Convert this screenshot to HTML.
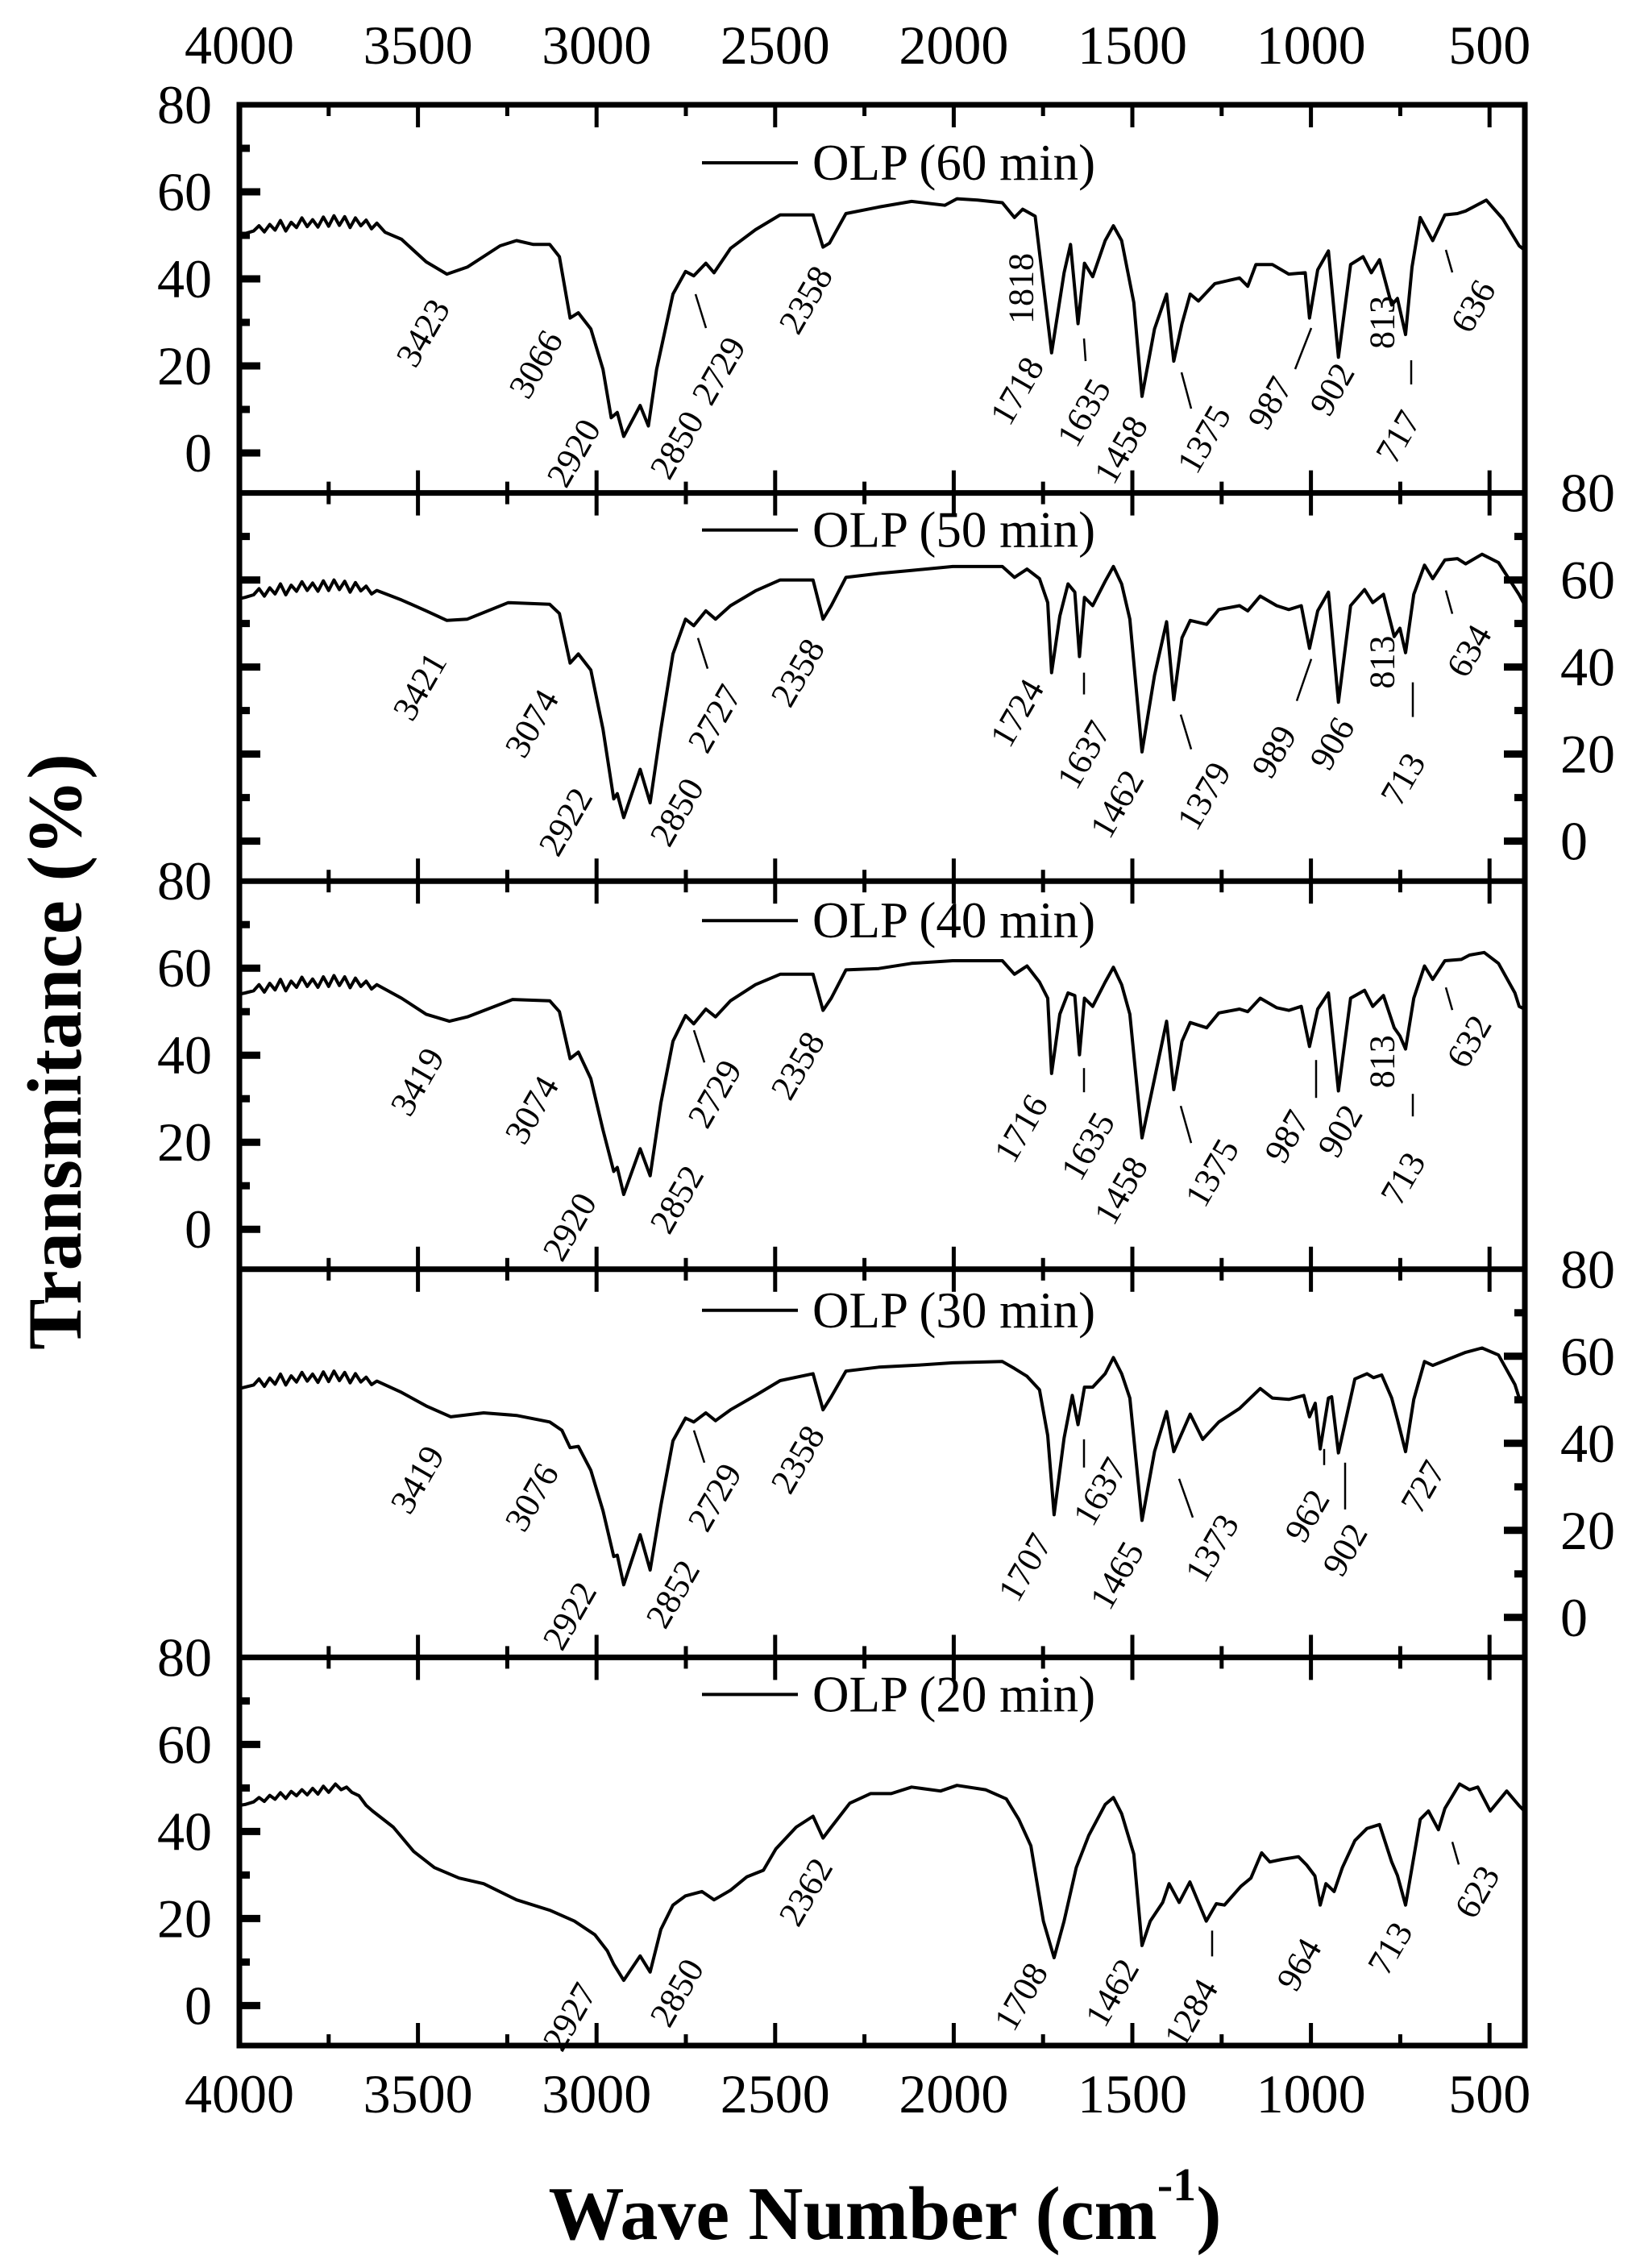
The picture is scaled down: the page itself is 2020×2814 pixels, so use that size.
<!DOCTYPE html>
<html>
<head>
<meta charset="utf-8">
<style>
html,body{margin:0;padding:0;background:#fff;}
svg{display:block;}
text{font-family:"Liberation Serif","Times New Roman",serif;fill:#000;}
</style>
</head>
<body>
<svg id="chart" width="2020" height="2814" viewBox="0 0 2020 2814" xmlns="http://www.w3.org/2000/svg">
  <rect x="0" y="0" width="2020" height="2814" fill="#fff"/>
  <g id="plot"></g>
  <text x="68" y="1305" font-size="95" font-weight="bold" text-anchor="middle" dominant-baseline="central" transform="rotate(-90 68 1305)">Transmitance (%)</text>
  <text x="1098" y="2778" font-size="94" font-weight="bold" text-anchor="middle">Wave Number (cm<tspan font-size="58" dy="-48">-1</tspan><tspan dy="48">)</tspan></text>
</svg>
<script>
// ---- data ----
const xTicks = [4000, 3500, 3000, 2500, 2000, 1500, 1000, 500];
const yTicks = [80, 60, 40, 20, 0];
const panelTitles = ["OLP (60 min)", "OLP (50 min)", "OLP (40 min)", "OLP (30 min)", "OLP (20 min)"];

const spec60 = [[4000,50.1],[3984,50.4],[3960,51.0],[3945,52.2],[3930,50.8],[3915,52.5],[3900,51.2],[3885,53.4],[3870,51.0],[3855,53.0],[3840,51.8],[3825,54.0],[3810,52.0],[3795,53.6],[3780,51.9],[3765,54.2],[3750,52.1],[3735,54.5],[3720,52.3],[3705,54.3],[3690,51.8],[3675,54.0],[3660,52.2],[3645,53.5],[3630,51.5],[3615,52.8],[3592,50.7],[3546,49.1],[3477,43.9],[3419,41.1],[3362,42.7],[3270,47.6],[3224,48.8],[3177,47.9],[3131,47.9],[3104,45.1],[3074,31.0],[3051,32.2],[3016,28.5],[2982,19.2],[2959,8.1],[2942,9.3],[2924,3.8],[2878,10.9],[2855,6.2],[2832,19.2],[2786,36.5],[2751,41.7],[2728,40.7],[2694,43.6],[2671,41.4],[2625,47.0],[2555,51.3],[2486,54.7],[2394,54.7],[2366,47.3],[2348,48.2],[2302,55.0],[2210,56.5],[2118,57.8],[2025,56.9],[1991,58.4],[1933,58.1],[1864,57.5],[1830,54.1],[1807,56.0],[1772,54.4],[1726,23.0],[1691,41.4],[1673,47.9],[1652,29.7],[1634,43.6],[1611,40.5],[1576,48.8],[1553,52.2],[1530,48.8],[1496,34.6],[1473,13.0],[1438,28.5],[1404,36.5],[1384,21.1],[1361,29.7],[1338,36.5],[1315,34.9],[1269,38.9],[1200,40.2],[1177,38.3],[1154,43.3],[1108,43.3],[1062,41.1],[1016,41.4],[1004,31.0],[981,42.1],[951,46.4],[923,22.0],[889,43.3],[854,45.1],[831,41.4],[808,44.4],[774,34.0],[758,35.5],[735,27.2],[717,42.7],[694,54.1],[659,48.8],[625,54.7],[590,55.0],[567,55.6],[509,58.1],[463,53.8],[417,47.6],[400,46.5]];

const spec50 = [[4000,55.7],[3984,56.0],[3960,56.6],[3945,58.0],[3930,56.3],[3915,58.2],[3900,56.8],[3885,59.1],[3870,56.6],[3855,58.8],[3840,57.4],[3825,59.6],[3810,57.6],[3795,59.3],[3780,57.4],[3765,59.8],[3750,57.6],[3735,60.0],[3720,57.8],[3705,59.7],[3690,57.2],[3675,59.4],[3660,57.5],[3645,58.6],[3630,56.8],[3615,57.6],[3546,55.4],[3477,52.9],[3419,50.7],[3362,51.0],[3247,54.8],[3131,54.4],[3104,52.3],[3074,40.9],[3051,43.0],[3016,39.3],[2982,25.7],[2952,9.7],[2942,10.9],[2924,5.4],[2878,16.5],[2850,8.8],[2820,25.7],[2786,43.0],[2751,51.0],[2728,49.5],[2694,52.9],[2667,51.0],[2625,54.1],[2555,57.5],[2486,60.0],[2394,60.0],[2366,51.0],[2343,54.1],[2302,60.6],[2210,61.5],[2118,62.2],[2003,63.1],[1864,63.1],[1830,60.6],[1795,62.5],[1760,60.3],[1737,54.8],[1726,38.7],[1703,51.7],[1680,59.1],[1661,57.2],[1648,42.4],[1634,56.0],[1611,54.1],[1576,59.7],[1553,63.1],[1530,59.1],[1507,51.0],[1473,20.5],[1438,38.1],[1404,50.4],[1384,32.5],[1361,46.7],[1338,50.7],[1292,49.8],[1258,53.2],[1200,54.1],[1177,52.9],[1142,56.3],[1096,54.1],[1062,53.2],[1027,54.1],[1004,44.3],[981,52.9],[951,57.2],[923,31.9],[889,54.1],[850,57.8],[827,54.8],[797,56.7],[767,47.0],[751,48.9],[735,43.3],[712,56.7],[682,63.4],[659,60.3],[625,64.6],[590,64.9],[567,63.7],[521,65.9],[475,64.0],[417,56.6],[400,54.0]];

const spec40 = [[4000,54.0],[3984,54.3],[3960,54.8],[3945,56.2],[3930,54.5],[3915,56.5],[3900,55.0],[3885,57.4],[3870,54.8],[3855,57.0],[3840,55.6],[3825,57.9],[3810,55.8],[3795,57.5],[3780,55.6],[3765,58.0],[3750,55.8],[3735,58.3],[3720,56.0],[3705,58.0],[3690,55.5],[3675,57.7],[3660,55.8],[3645,57.0],[3630,55.2],[3615,56.2],[3546,53.1],[3477,49.4],[3412,47.8],[3362,48.8],[3235,52.8],[3131,52.5],[3104,50.0],[3074,39.2],[3051,40.7],[3016,34.6],[2982,22.8],[2952,13.3],[2942,14.2],[2924,8.0],[2878,18.5],[2850,12.3],[2820,29.0],[2786,43.2],[2751,49.1],[2728,47.2],[2694,50.6],[2667,48.8],[2625,52.5],[2555,56.2],[2486,58.6],[2394,58.6],[2366,50.3],[2343,53.1],[2302,59.6],[2210,59.9],[2118,61.1],[2003,61.7],[1864,61.7],[1830,58.6],[1795,60.5],[1760,56.8],[1737,53.1],[1726,35.8],[1703,49.4],[1680,54.3],[1661,53.7],[1648,40.1],[1634,53.1],[1611,51.2],[1576,56.8],[1553,60.2],[1530,56.2],[1507,49.4],[1473,21.0],[1438,34.6],[1404,47.8],[1384,32.1],[1361,43.2],[1338,47.5],[1292,46.3],[1258,49.7],[1200,50.6],[1177,50.0],[1142,53.1],[1096,50.9],[1062,50.3],[1027,51.2],[1004,42.0],[981,50.6],[951,54.3],[923,31.8],[889,53.1],[850,54.9],[827,51.2],[797,53.7],[767,46.3],[751,44.4],[735,41.4],[712,53.1],[682,60.5],[659,57.4],[625,61.7],[579,62.0],[556,63.0],[515,63.6],[475,61.1],[429,54.3],[417,51.2],[400,50.5]];

const spec30 = [[4000,52.6],[3984,52.9],[3960,53.4],[3945,54.8],[3930,53.1],[3915,55.0],[3900,53.6],[3885,55.9],[3870,53.4],[3855,55.5],[3840,54.1],[3825,56.3],[3810,54.3],[3795,55.9],[3780,54.0],[3765,56.4],[3750,54.2],[3735,56.6],[3720,54.4],[3705,56.3],[3690,53.9],[3675,56.0],[3660,54.1],[3645,55.2],[3630,53.5],[3615,54.3],[3546,51.7],[3477,48.6],[3408,46.1],[3316,47.0],[3224,46.4],[3131,44.9],[3097,43.0],[3074,39.0],[3051,39.3],[3016,33.8],[2982,24.5],[2952,14.0],[2942,14.3],[2924,7.5],[2878,19.0],[2850,10.9],[2820,25.7],[2786,40.6],[2751,45.8],[2728,44.9],[2694,47.0],[2667,45.2],[2625,47.7],[2555,51.0],[2486,54.4],[2394,56.0],[2366,47.7],[2343,50.7],[2302,56.6],[2210,57.5],[2095,58.0],[2003,58.5],[1864,58.8],[1830,57.2],[1795,55.4],[1760,52.3],[1737,41.8],[1719,23.6],[1691,41.2],[1668,51.0],[1652,44.3],[1634,52.9],[1611,52.9],[1576,56.0],[1553,59.7],[1530,56.0],[1507,50.4],[1473,22.3],[1438,38.1],[1404,47.3],[1384,38.1],[1338,46.7],[1303,40.9],[1258,44.9],[1200,48.0],[1142,52.6],[1108,50.4],[1062,50.1],[1020,51.0],[1004,46.1],[988,49.2],[974,38.7],[951,50.4],[942,50.7],[923,37.8],[877,54.8],[843,56.0],[825,55.1],[802,55.7],[774,50.4],[758,45.5],[735,38.1],[712,50.1],[682,58.8],[659,57.9],[613,59.4],[567,60.9],[521,61.9],[475,60.3],[429,53.5],[417,50.4],[400,49.5]];

const spec20 = [[4000,46.0],[3984,46.2],[3960,46.8],[3945,47.8],[3930,46.9],[3915,48.3],[3900,47.4],[3885,48.9],[3870,47.6],[3855,49.2],[3840,48.2],[3825,49.6],[3810,48.4],[3795,49.9],[3780,48.6],[3765,50.4],[3750,49.0],[3731,50.9],[3715,49.6],[3700,50.2],[3685,49.0],[3665,48.2],[3645,46.0],[3627,44.7],[3569,41.0],[3512,35.4],[3454,31.7],[3385,29.3],[3316,28.0],[3224,24.3],[3131,21.9],[3062,19.4],[3005,16.3],[2970,12.6],[2952,9.5],[2924,5.8],[2878,11.4],[2850,7.7],[2820,17.5],[2786,23.1],[2751,25.2],[2705,26.2],[2671,24.3],[2625,26.5],[2579,29.6],[2533,31.1],[2498,36.0],[2441,41.0],[2394,43.5],[2366,38.5],[2343,41.0],[2291,46.5],[2233,48.7],[2175,48.7],[2118,50.2],[2037,49.3],[1991,50.6],[1911,49.6],[1853,47.5],[1818,42.8],[1784,36.7],[1749,19.4],[1719,11.0],[1691,19.4],[1657,31.7],[1622,39.1],[1576,46.2],[1553,47.8],[1530,44.1],[1496,34.8],[1473,13.8],[1450,19.4],[1415,23.7],[1397,28.0],[1369,23.7],[1339,28.4],[1293,19.4],[1265,23.4],[1242,23.1],[1196,27.4],[1168,29.3],[1138,35.1],[1115,33.0],[1081,33.6],[1035,34.2],[1012,32.3],[989,29.8],[974,23.1],[958,28.0],[935,26.2],[912,31.7],[877,37.9],[843,40.7],[808,41.6],[774,33.0],[758,29.9],[735,23.1],[717,31.7],[694,42.8],[671,44.7],[643,40.4],[625,45.3],[584,50.9],[556,49.6],[533,50.2],[498,44.7],[452,49.3],[417,45.9],[400,44.5]];

const spectra = [spec60, spec50, spec40, spec30, spec20];

// peak labels: [text, x, yOffsetFromPanelTop, rotation]
const peaks60 = [["3423",525,283,-60],["3066",665,322,-60],["2920",712,432,-60],["2850",840,422,-60],["2729",892,330,-60],["2358",1000,242,-60],["1818",1267,228,-90],["1718",1262,355,-60],["1635",1345,382,-60],["1458",1391,428,-60],["1375",1494,415,-60],["987",1576,370,-60],["902",1653,353,-60],["813",1715,270,-90],["717",1735,412,-60],["636",1828,250,-60]];
const peaks50 = [["3421",521,240,-60],["3074",660,286,-60],["2922",702,408,-60],["2850",840,396,-60],["2727",887,280,-60],["2358",990,223,-60],["1724",1262,273,-60],["1637",1345,325,-60],["1462",1386,386,-60],["1379",1494,376,-60],["989",1581,321,-60],["906",1653,311,-60],["813",1715,210,-90],["713",1741,355,-60],["634",1823,196,-60]];
const peaks40 = [["3419",518,249,-60],["3074",660,284,-60],["2920",707,429,-60],["2852",840,395,-60],["2729",887,264,-60],["2358",990,229,-60],["1716",1267,307,-60],["1635",1350,329,-60],["1458",1391,384,-60],["1375",1504,362,-60],["987",1597,317,-60],["902",1663,310,-60],["813",1715,224,-90],["713",1741,369,-60],["632",1823,199,-60]];
const peaks30 = [["3419",518,261,-60],["3076",660,283,-60],["2922",707,430,-60],["2852",835,403,-60],["2729",887,283,-60],["2358",990,236,-60],["1707",1272,370,-60],["1637",1365,276,-60],["1465",1386,380,-60],["1373",1504,346,-60],["962",1622,306,-60],["902",1669,348,-60],["727",1766,270,-60]];
const peaks20 = [["2927",707,446,-60],["2850",840,416,-60],["2362",1000,291,-60],["1708",1267,421,-60],["1462",1380,416,-60],["1284",1478,441,-60],["964",1612,381,-60],["713",1725,361,-60],["623",1833,291,-60]];
const peakSets = [peaks60, peaks50, peaks40, peaks30, peaks20];

// leader lines: [x1, y1, x2, y2] relative to panel top
const leaders60 = [[863,235,876,277],[1345,290,1347,318],[1466,332,1478,377],[1627,277,1607,328],[1751,317,1751,347],[1794,180,1802,208]];
const leaders50 = [[866,180,878,218],[1345,223,1345,250],[1465,275,1478,318],[1627,206,1609,258],[1753,235,1753,278],[1794,121,1802,150]];
const leaders40 = [[861,185,874,225],[1345,232,1345,262],[1465,279,1478,325],[1633,222,1633,269],[1753,264,1753,292],[1794,132,1802,160]];
const leaders30 = [[861,200,874,240],[1345,211,1345,246],[1463,260,1480,308],[1643,223,1643,243],[1669,240,1669,298]];
const leaders20 = [[1504,339,1504,371],[1802,229,1810,257]];
const leaderSets = [leaders60, leaders50, leaders40, leaders30, leaders20];

const legendOffsets = [72, 46, 49, 51, 46];
const tickSides = [["L"], ["L","R"], ["L"], ["R"], ["L"]];

// ---- layout ----
const NS = "http://www.w3.org/2000/svg";
const X0 = 297, X1 = 1892, TOP = 130, PH = 481.6, PXU = 5.4, PX500 = 221.6;
function xs(wn){ return X0 + (4000 - wn) / 500 * PX500; }
function ptop(i){ return TOP + i * PH; }
function ys(v, i){ return ptop(i) + (80 - v) * PXU; }
const plot = document.getElementById("plot");
function mk(tag, attrs, parent){
  const e = document.createElementNS(NS, tag);
  for (const k in attrs) e.setAttribute(k, attrs[k]);
  (parent || plot).appendChild(e);
  return e;
}

for (let i = 0; i < 5; i++){
  const t = ptop(i), b = ptop(i + 1);
  const g = mk("g", {});
  
  

  const d = spectra[i].map((p, k) => (k ? "L" : "M") + xs(p[0]).toFixed(1) + " " + ys(p[1], i).toFixed(1)).join(" ");
  const path = mk("path", {d: d, fill: "none", stroke: "#000", "stroke-width": 4, "stroke-linejoin": "round"}, g);
  
  

  for (let wn = 4000; wn >= 400; wn -= 250){
    const major = wn % 500 === 0;
    const len = major ? 28 : 14;
    const x = xs(wn);
    const t1 = mk("line", {x1: x, y1: t, x2: x, y2: t + len, stroke: "#000", "stroke-width": 5}, g);
    
    
    const t2 = mk("line", {x1: x, y1: b, x2: x, y2: b - len, stroke: "#000", "stroke-width": 5}, g);
    
    
  }
  for (let v = 0; v < 80; v += 10){
    const major = v % 20 === 0;
    const len = major ? 26 : 13;
    const y = ys(v, i);
    tickSides[i].forEach(s => {
      const xa = s === "L" ? X0 : X1;
      const xb = s === "L" ? X0 + len : X1 - len;
      const tk = mk("line", {x1: xa, y1: y, x2: xb, y2: y, stroke: "#000", "stroke-width": 9}, g);
      
      
    });
  }
  const right = i === 1 || i === 3;
  yTicks.forEach(v => {
    const tl = mk("text", {x: right ? 1936 : 263, y: ys(v, i), "font-size": 68, "text-anchor": right ? "start" : "end", "dominant-baseline": "central"}, g);
    tl.textContent = v;
    
    
  });

  const ly = t + legendOffsets[i];
  const ll = mk("line", {x1: 871, y1: ly, x2: 990, y2: ly, stroke: "#000", "stroke-width": 4}, g);
  
  
  const lt = mk("text", {x: 1008, y: ly + 21, "font-size": 63}, g);
  lt.textContent = panelTitles[i];
  
  

  peakSets[i].forEach(p => {
    const cy = t + p[2];
    const pl = mk("text", {x: p[1], y: cy, "font-size": 44, "text-anchor": "middle", "dominant-baseline": "central", transform: "rotate(" + p[3] + " " + p[1] + " " + cy + ")"}, g);
    pl.textContent = p[0];
    
    
  });
  leaderSets[i].forEach(l => {
    const ln = mk("line", {x1: l[0], y1: t + l[1], x2: l[2], y2: t + l[3], stroke: "#000", "stroke-width": 2.5}, g);
    
    
  });

  const sep = mk("line", {x1: X0 - 3, y1: t, x2: X1 + 3, y2: t, stroke: "#000", "stroke-width": 7}, g);
  
  
}
const fr = mk("rect", {x: X0, y: TOP, width: X1 - X0, height: ptop(5) - TOP, fill: "none", stroke: "#000", "stroke-width": 7});



xTicks.forEach(wn => {
  const a = mk("text", {x: xs(wn), y: 56, "font-size": 68, "text-anchor": "middle", "dominant-baseline": "central"});
  a.textContent = wn;
  
  
  const b = mk("text", {x: xs(wn), y: 2598, "font-size": 68, "text-anchor": "middle", "dominant-baseline": "central"});
  b.textContent = wn;
  
  
});
</script>
</body>
</html>
